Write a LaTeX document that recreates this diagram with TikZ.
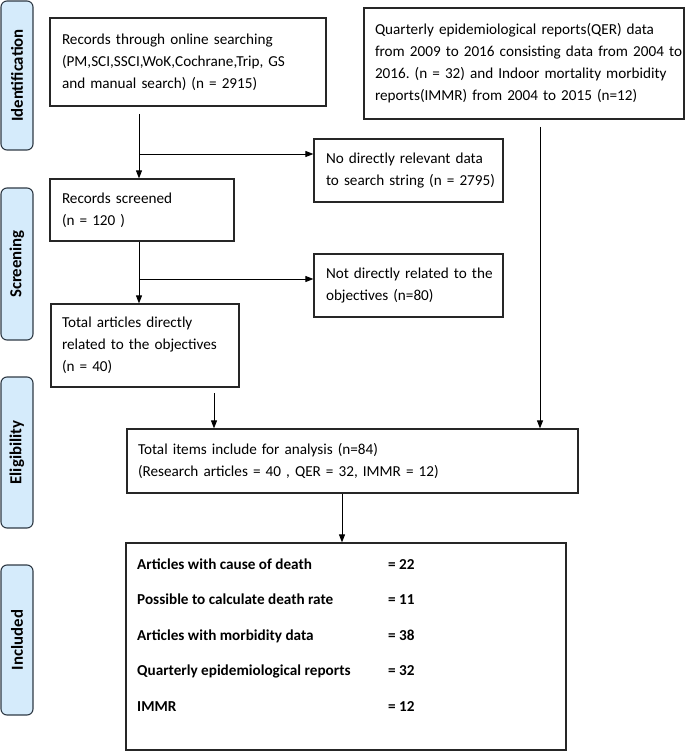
\documentclass[tikz,border=0pt]{standalone}
\usepackage{fontspec}
\setmainfont{Carlito}
\usetikzlibrary{arrows.meta}
\definecolor{lblfill}{HTML}{D5EBFB}
\definecolor{lbldraw}{HTML}{2F3A45}
\newcommand{\tbx}[1]{\begin{tabular}{@{}l@{}}#1\end{tabular}}
\frenchspacing
\begin{document}
\begin{tikzpicture}[x=1pt,y=-1pt,
  box/.style={draw=black!85, line width=1.2pt, rectangle, inner xsep=0pt, inner ysep=0pt,
    align=left, font=\fontsize{15.2}{22}\selectfont},
  lbl/.style={draw=lbldraw, fill=lblfill, line width=1.1pt, rounded corners=6pt,
    minimum width=32pt, font=\fontsize{16.8}{18}\selectfont\bfseries, rotate=90},
  arr/.style={line width=0.9pt, -{Triangle[length=8pt,width=6pt]}}]
\useasboundingbox (0,0) rectangle (685,751);
% stage labels
\node[lbl, minimum height=32pt, minimum width=149pt] (lid) at (17,75.5) {Identification};
\node[lbl, minimum height=32pt, minimum width=152pt] (lsc) at (17,264) {Screening};
\node[lbl, minimum height=32pt, minimum width=151pt] (lel) at (17,452.5) {Eligibility};
\node[lbl, minimum height=32pt, minimum width=150pt] (lin) at (17,640) {Included};
% boxes
\node[box, minimum width=276pt, minimum height=88pt, text width=252pt] (rec) at (188,62)
  {\tbx{Records through online searching\\(PM,SCI,SSCI,WoK,Cochrane,Trip, GS\\and manual search) (n = 2915)}};
\node[box, minimum width=320pt, minimum height=111pt, text width=298pt] (qer) at (524,63.5)
  {\tbx{Quarterly epidemiological reports(QER) data\\from 2009 to 2016 consisting data from 2004 to\\2016. (n = 32) and Indoor mortality morbidity\\reports(IMMR) from 2004 to 2015 (n=12)}};
\node[box, minimum width=189pt, minimum height=63pt, text width=165pt] (nod) at (408.5,170.5)
  {\tbx{No directly relevant data\\to search string (n = 2795)}};
\node[box, minimum width=184pt, minimum height=62pt, text width=160pt] (scr) at (142,210)
  {\tbx{Records screened\\(n = 120 )}};
\node[box, minimum width=189pt, minimum height=63pt, text width=165pt] (ndr) at (408.5,285.5)
  {\tbx{Not directly related to the\\objectives (n=80)}};
\node[box, minimum width=188pt, minimum height=83pt, text width=166pt] (tot) at (145,345.5)
  {\tbx{Total articles directly\\related to the objectives\\(n = 40)}};
\node[box, minimum width=451pt, minimum height=64pt, text width=429pt] (itm) at (352.5,461)
  {\tbx{Total items include for analysis (n=84)\\(Research articles = 40 , QER = 32, IMMR = 12)}};
\node[box, minimum width=440pt, minimum height=207pt] (inc) at (346,646.5) {};
\begin{scope}[every node/.style={anchor=base west, inner sep=0pt, font=\fontsize{15.2}{16}\selectfont\bfseries}]
\node (i1) at (137,569) {Articles with cause of death};
\node (v1) at (388,569) {= 22};
\node (i2) at (137,604.5) {Possible to calculate death rate};
\node (v2) at (388,604.5) {= 11};
\node (i3) at (137,640) {Articles with morbidity data};
\node (v3) at (388,640) {= 38};
\node (i4) at (137,675.5) {Quarterly epidemiological reports};
\node (v4) at (388,675.5) {= 32};
\node (i5) at (137,711) {IMMR};
\node (v5) at (388,711) {= 12};
\end{scope}
% connectors
\coordinate (a1) at (139,114);
\coordinate (b1) at (139,154);
\draw[arr] (a1) -- (a1 |- scr.north);
\draw[arr] (b1) -- (b1 -| nod.west);
\coordinate (b2) at (139,279);
\draw[arr] (scr.south -| a1) -- (a1 |- tot.north);
\draw[arr] (b2) -- (b2 -| ndr.west);
\coordinate (a3) at (214,393);
\draw[arr] (a3) -- (a3 |- itm.north);
\coordinate (a4) at (540,127);
\draw[arr] (a4) -- (a4 |- itm.north);
\coordinate (a5) at (342,493);
\draw[arr] (itm.south -| a5) -- (a5 |- inc.north);
\end{tikzpicture}
\end{document}
